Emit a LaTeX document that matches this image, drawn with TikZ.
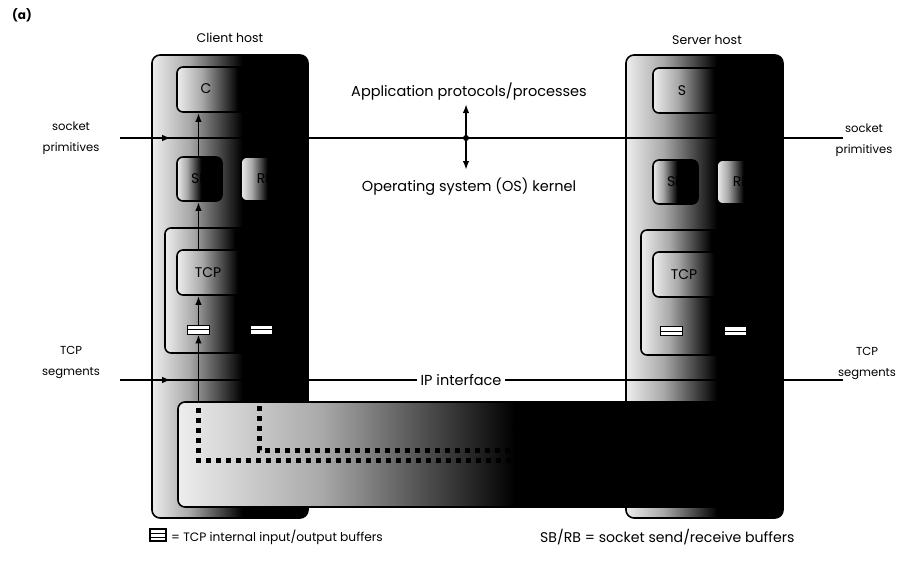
\documentclass[tikz,border=0pt]{standalone}
\usepackage{fontspec}
\setmainfont{Poppins}
\usetikzlibrary{arrows.meta}
\definecolor{lightg}{gray}{0.93}
\definecolor{midg}{gray}{0.66}
\pgfdeclarehorizontalshading{hostshade}{100bp}{color(0bp)=(lightg); color(25bp)=(lightg); color(37bp)=(midg); color(54bp)=(black); color(100bp)=(black)}
\pgfdeclarehorizontalshading{boxshade}{100bp}{color(0bp)=(lightg); color(25bp)=(lightg); color(36bp)=(midg); color(52bp)=(black); color(100bp)=(black)}
\pgfdeclarehorizontalshading{ipshade}{100bp}{color(0bp)=(lightg); color(25bp)=(lightg); color(37bp)=(midg); color(53bp)=(black); color(100bp)=(black)}
\tikzset{
  host/.style={draw=black, line width=1.6pt, rounded corners=8pt, shading=hostshade, inner sep=0pt},
  inbox/.style={draw=black, line width=1.6pt, rounded corners=6pt, shading=boxshade, inner sep=0pt},
  ipbox/.style={draw=black, line width=1.6pt, rounded corners=7pt, shading=ipshade, inner sep=0pt},
  lbl/.style={font=\fontsize{14.5}{17}\selectfont, inner sep=1pt},
  ttl/.style={font=\fontsize{12.5}{15}\selectfont, inner sep=1pt},
  side/.style={font=\fontsize{11.6}{21}\selectfont, align=center, inner sep=0pt},
  boxlbl/.style={font=\fontsize{14}{16}\selectfont},
  buf/.style={draw=black, fill=white, line width=0.8pt, minimum width=22pt, minimum height=9pt, inner sep=0pt},
  hline/.style={line width=1.5pt},
  arr/.style={line width=1.8pt, -{Latex[length=9pt,width=6.5pt]}},
  dots/.style={line width=5pt, dash pattern=on 5pt off 5pt, line cap=butt, black}
}
\begin{document}
\begin{tikzpicture}[x=1pt,y=-1pt]
\useasboundingbox[fill=white] (0,0) rectangle (897,562);
% hosts
\node[host, minimum width=156pt, minimum height=463pt] (client) at (230,286.5) {};
\node[host, minimum width=157pt, minimum height=463pt] (server) at (704.5,286.5) {};
% client inner boxes
\node[inbox, minimum width=113pt, minimum height=45pt] (capp) at (233.5,89.5) {};
\node[inbox, minimum width=45pt, minimum height=44pt] (csb) at (199.5,179) {};
\node[inbox, minimum width=49pt, minimum height=44pt] (crb) at (265.5,179) {};
\node[inbox, minimum width=130pt, minimum height=125pt] (ctcpo) at (230,290.5) {};
\node[inbox, minimum width=113pt, minimum height=45pt] (ctcp) at (233.5,272.5) {};
% server inner boxes
\node[inbox, minimum width=113pt, minimum height=45pt] (sapp) at (709.5,90.5) {};
\node[inbox, minimum width=45pt, minimum height=44pt] (ssb) at (675.5,182) {};
\node[inbox, minimum width=49pt, minimum height=44pt] (srb) at (741.5,182) {};
\node[inbox, minimum width=130pt, minimum height=125pt] (stcpo) at (706,292.5) {};
\node[inbox, minimum width=113pt, minimum height=45pt] (stcp) at (709.5,274.5) {};
% box labels
\node[boxlbl] (capplbl) at (206,89) {C};
\node[boxlbl] (csblbl) at (199.5,179) {SB};
\node[boxlbl] (crblbl) at (265.5,179) {RB};
\node[boxlbl] (ctcplbl) at (208,272.5) {TCP};
\node[boxlbl] (sapplbl) at (682,90.5) {S};
\node[boxlbl] (ssblbl) at (675.5,182) {SB};
\node[boxlbl] (srblbl) at (741.5,182) {RB};
\node[boxlbl] (stcplbl) at (684,274.5) {TCP};
% buffers
\node[buf] (cbufL) at (198.5,329.5) {};
\node[buf] (cbufR) at (261,329.5) {};
\node[buf] (sbufL) at (671.5,331) {};
\node[buf] (sbufR) at (735,331) {};
\foreach \b in {cbufL,cbufR,sbufL,sbufR}{\draw[line width=1pt] (\b.west) -- (\b.east);}
% IP box
\node[ipbox, minimum width=602pt, minimum height=105pt] (ip) at (479,454.5) {};
\node[boxlbl] (iplbl) at (517,427) {IP};
% dotted paths
\coordinate (d1a) at (198,408);
\coordinate (d1b) at (198,460);
\coordinate (d1c) at (620,460);
\coordinate (d2a) at (259,406);
\coordinate (d2b) at (259,450);
\coordinate (d2c) at (620,450);
\draw[dots] (d1a) -- (d1b) -- (d1c);
\draw[dots] (d2a) -- (d2b) -- (d2c);
% vertical arrows in client
\draw[arr] (cbufL.south |- ip.north) -- (cbufL.south);
\draw[arr] (cbufL.north) -- (cbufL.north |- ctcp.south);
\draw[arr] (cbufL.north |- ctcp.north) -- (cbufL.north |- csb.south);
\draw[arr] (cbufL.north |- csb.north) -- (cbufL.north |- capp.south);
% horizontal interface lines
\coordinate (sockL) at (120,138);
\coordinate (sockR) at (843,138);
\coordinate (ipiL) at (120,380);
\coordinate (ipiR) at (843,380);
\draw[hline] (sockL) -- (sockR);
\draw[hline] (ipiL) -- (ipiR);
\draw[arr] (sockL) -- ([xshift=20pt]client.west |- sockL);
\draw[arr] (ipiL) -- ([xshift=20pt]client.west |- ipiL);
\node[lbl, fill=white, inner xsep=4pt] (ipif) at (461,380) {IP interface};
% centre labels
\node[lbl] (apptxt) at (469,92) {Application protocols/processes};
\node[lbl] (ostxt) at (469,187) {Operating system (OS) kernel};
\coordinate (mid) at (466,138);
\coordinate (upA) at (466,104);
\coordinate (dnA) at (466,170);
\draw[arr] (mid) -- (upA);
\draw[arr] (mid) -- (dnA);
\fill (mid) circle (3pt);
% host titles
\node[ttl] (clienttitle) at (230,38) {Client host};
\node[ttl] (servertitle) at (707,40) {Server host};
% side labels
\node[side] (spL) at (71,138) {socket\\primitives};
\node[side] (spR) at (864,140) {socket\\primitives};
\node[side] (tsL) at (71,362) {TCP\\segments};
\node[side] (tsR) at (867,363) {TCP\\segments};
% (a)
\node[font=\bfseries\fontsize{12}{14}\selectfont] (alabel) at (22,15) {(a)};
% legend
\node[draw=black, line width=1.2pt, minimum width=16pt, minimum height=12pt, inner sep=0pt] (legbuf) at (158,535) {};
\draw[line width=1pt] ([yshift=-2pt]legbuf.west) -- ([yshift=-2pt]legbuf.east);
\draw[line width=1pt] ([yshift=2pt]legbuf.west) -- ([yshift=2pt]legbuf.east);
\node[anchor=west, font=\fontsize{12.2}{14}\selectfont, inner sep=0pt] (legtxt1) at (171,537) {= TCP internal input/output buffers};
\node[anchor=west, font=\fontsize{14.1}{15}\selectfont, inner sep=0pt] (legtxt2) at (540,537) {SB/RB = socket send/receive buffers};
\end{tikzpicture}
\end{document}
